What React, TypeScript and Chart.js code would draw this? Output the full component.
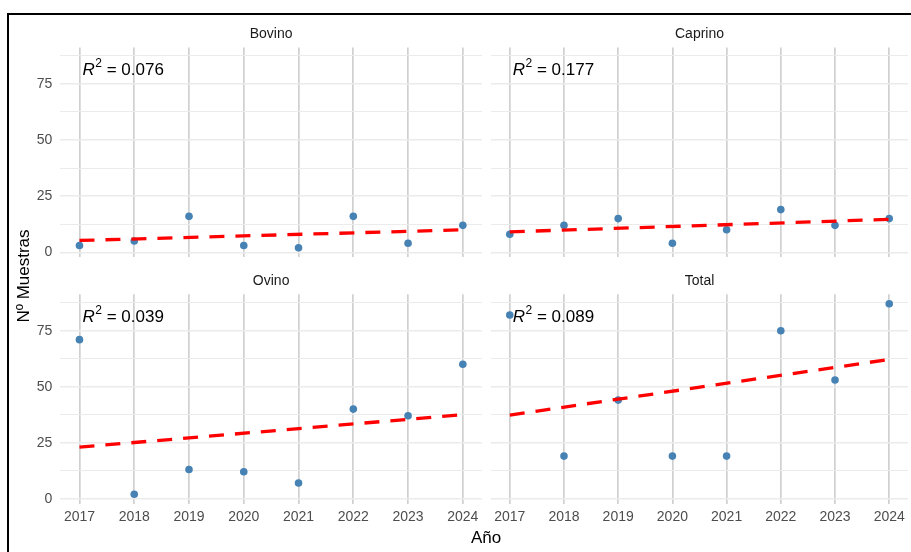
import React, { useEffect, useRef } from "react";
import { Chart, registerables } from "chart.js";

Chart.register(...registerables);

// ---- data ----
const years = [2017, 2018, 2019, 2020, 2021, 2022, 2023, 2024];
const bovino = [3, 5, 16, 3, 2, 16, 4, 12];
const caprino = [8, 12, 15, 4, 10, 19, 12, 15];
const ovino = [71, 2, 13, 12, 7, 40, 37, 60];
const total = [82, 19, 44, 19, 19, 75, 53, 87];
// linear fit values at 2017 and 2024
const fitYears = [2017, 2024];
const fitBovino = [5.25, 10.0];
const fitCaprino = [9.08, 14.67];
const fitOvino = [23.0, 37.5];
const fitTotal = [37.33, 62.17];
const r2Labels = ["0.076", "0.177", "0.039", "0.089"];
const panelNames = ["Bovino", "Caprino", "Ovino", "Total"];
const yGridTicks = [0, 12.5, 25, 37.5, 50, 62.5, 75, 87.5];
const yLabelTicks = [0, 25, 50, 75];
const xLimits = [2016.65, 2024.35];
const yLimits = [-2.25, 91.25];
const labelPos = { x: 2017, y: 81 };

const FONT = '"Liberation Sans", Arial, Helvetica, sans-serif';
const CW = 912;
const CH = 552;

type Rect = { l: number; t: number; r: number; b: number };

const r2Plugin = {
  id: "r2label",
  afterDatasetsDraw(chart: any, _args: any, opts: any) {
    const { ctx, scales } = chart;
    const x = scales.x;
    const y = scales.y;
    const px = x.getPixelForValue(labelPos.x) + 3;
    const py = y.getPixelForValue(labelPos.y);
    ctx.save();
    ctx.fillStyle = "#000000";
    ctx.textBaseline = "middle";
    ctx.textAlign = "left";
    ctx.font = `italic 17px ${FONT}`;
    ctx.fillText("R", px, py);
    let cx = px + ctx.measureText("R").width + 0.5;
    ctx.font = `12px ${FONT}`;
    ctx.fillText("2", cx, py - 7);
    cx += ctx.measureText("2").width;
    ctx.font = `17px ${FONT}`;
    ctx.fillText(" = " + opts.text, cx, py);
    ctx.restore();
  },
};

function Panel(props: {
  idx: number;
  values: number[];
  fit: number[];
  rect: Rect;
  showX: boolean;
  showY: boolean;
}) {
  const ref = useRef<HTMLCanvasElement | null>(null);
  const { idx, values, fit, rect, showX, showY } = props;

  useEffect(() => {
    if (!ref.current) return;
    const yAxisW = showY ? 40 : 0;
    const xAxisH = showX ? 30 : 0;
    const titleH = 14 * 1.2 + 5;
    const chart = new Chart(ref.current, {
      type: "scatter",
      data: {
        datasets: [
          {
            type: "line",
            data: fitYears.map((yr, i) => ({ x: yr, y: fit[i] })),
            borderColor: "#FF0000",
            borderWidth: 3.3,
            borderDash: [15, 11],
            pointRadius: 0,
            fill: false,
            tension: 0,
            order: 0,
          } as any,
          {
            type: "scatter",
            data: years.map((yr, i) => ({ x: yr, y: values[i] })),
            backgroundColor: "#4682B4",
            borderColor: "#4682B4",
            borderWidth: 0,
            pointRadius: 3.8,
            pointHoverRadius: 3.8,
            order: 1,
          },
        ],
      },
      options: {
        responsive: false,
        animation: false,
        devicePixelRatio: 1,
        events: [],
        layout: {
          padding: {
            left: rect.l - yAxisW,
            right: CW - rect.r,
            top: rect.t - titleH,
            bottom: CH - rect.b - xAxisH,
          },
        },
        plugins: {
          legend: { display: false },
          tooltip: { enabled: false },
          title: {
            display: true,
            text: panelNames[idx],
            fullSize: false,
            color: "#1a1a1a",
            font: { family: FONT, size: 14, weight: "normal", lineHeight: 1.2 },
            padding: { top: 0, bottom: 5 },
          },
          r2label: { text: r2Labels[idx] },
        } as any,
        scales: {
          x: {
            type: "linear",
            min: xLimits[0],
            max: xLimits[1],
            afterBuildTicks: (s: any) => {
              s.ticks = years.map((v) => ({ value: v }));
            },
            afterFit: (s: any) => {
              s.height = xAxisH;
              s.paddingLeft = 0;
              s.paddingRight = 0;
            },
            border: { display: false },
            grid: {
              color: "#d0d0d0",
              lineWidth: 1.7,
              drawTicks: false,
            },
            ticks: {
              display: showX,
              padding: 5,
              color: "#4d4d4d",
              font: { family: FONT, size: 14 },
              maxRotation: 0,
              autoSkip: false,
              callback: (v: any) => String(v),
            },
          },
          y: {
            type: "linear",
            min: yLimits[0],
            max: yLimits[1],
            afterBuildTicks: (s: any) => {
              s.ticks = yGridTicks.map((v) => ({ value: v }));
            },
            afterFit: (s: any) => {
              s.width = yAxisW;
              s.paddingTop = 0;
              s.paddingBottom = 0;
            },
            border: { display: false },
            grid: {
              color: "#ebebeb",
              lineWidth: (c: any) =>
                c.tick && yLabelTicks.includes(c.tick.value) ? 1.5 : 1.1,
              drawTicks: false,
            },
            ticks: {
              display: showY,
              padding: 8,
              color: "#4d4d4d",
              font: { family: FONT, size: 14 },
              autoSkip: false,
              callback: (v: any) =>
                yLabelTicks.includes(Number(v)) ? String(v) : "",
            },
          },
        },
      },
      plugins: [r2Plugin],
    });
    return () => chart.destroy();
  }, []);

  return (
    <canvas
      ref={ref}
      width={CW}
      height={CH}
      style={{ position: "absolute", left: 0, top: 0, width: CW, height: CH }}
    />
  );
}

export default function App() {
  const leftX = { l: 60.3, r: 482 };
  const rightX = { l: 490.8, r: 911.8 };
  const topY = { t: 47.5, b: 257.3 };
  const botY = { t: 294.3, b: 503.7 };
  return (
    <div
      style={{
        position: "absolute",
        left: 0,
        top: 0,
        width: 911,
        height: 552,
        overflow: "hidden",
        background: "#ffffff",
        fontFamily: FONT,
      }}
    >
      <Panel idx={0} values={bovino} fit={fitBovino} rect={{ ...leftX, ...topY }} showX={false} showY={true} />
      <Panel idx={1} values={caprino} fit={fitCaprino} rect={{ ...rightX, ...topY }} showX={false} showY={false} />
      <Panel idx={2} values={ovino} fit={fitOvino} rect={{ ...leftX, ...botY }} showX={true} showY={true} />
      <Panel idx={3} values={total} fit={fitTotal} rect={{ ...rightX, ...botY }} showX={true} showY={false} />
      <div
        style={{
          position: "absolute",
          left: 486,
          top: 536.5,
          transform: "translate(-50%, -50%)",
          fontSize: 17,
          color: "#000",
          whiteSpace: "nowrap",
          lineHeight: 1,
        }}
      >
        Año
      </div>
      <div
        style={{
          position: "absolute",
          left: 23,
          top: 275.6,
          transform: "translate(-50%, -50%) rotate(-90deg)",
          fontSize: 17,
          color: "#000",
          whiteSpace: "nowrap",
          lineHeight: 1,
        }}
      >
        Nº Muestras
      </div>
      <div
        style={{
          position: "absolute",
          left: 7,
          top: 13,
          width: 920,
          height: 560,
          borderTop: "2px solid #000",
          borderLeft: "2px solid #000",
          pointerEvents: "none",
        }}
      />
    </div>
  );
}
